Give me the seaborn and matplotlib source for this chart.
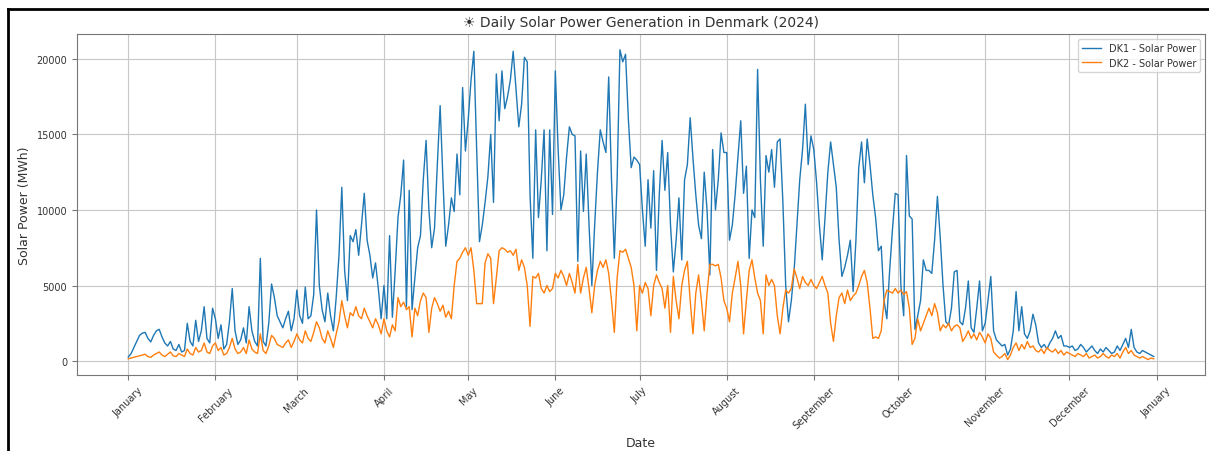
import matplotlib
matplotlib.use("Agg")
import matplotlib.dates as mdates
import matplotlib.pyplot as plt
import pandas as pd
import seaborn as sns
from matplotlib.lines import Line2D

# daily values, one list per month (2024 is a leap year)
dk1_months = [
    [270, 500, 900, 1300, 1700, 1850, 1900, 1500, 1270, 1700, 2000, 2100, 1600, 1200, 1000, 1300,
     800, 700, 1100, 600, 700, 2500, 1300, 1000, 2700, 1300, 2000, 3600, 1500, 1200, 3500],
    [2800, 1500, 2400, 800, 1100, 2600, 4800, 2000, 1100, 1400, 2200, 1200, 3600, 2000, 1300, 1000,
     6800, 1300, 1000, 2500, 5100, 4200, 3000, 2600, 2200, 2800, 3300, 2000, 2800],
    [4700, 3000, 2500, 4900, 2800, 3000, 4400, 10000, 5000, 3400, 2600, 4500, 3000, 2000, 4200, 7000,
     11500, 6000, 4000, 8300, 7900, 8700, 7000, 9000, 11100, 8000, 7000, 5500, 6500, 4800, 2800],
    [5000, 2800, 8300, 2900, 6000, 9500, 11000, 13300, 3600, 11300, 3400, 5500, 7500, 8300, 12000,
     14600, 10000, 7500, 8800, 13000, 16900, 12000, 7600, 9000, 10800, 9900, 13700, 11000, 18100, 13900],
    [16000, 18600, 20500, 14000, 7900, 9000, 10500, 12200, 15000, 10500, 19000, 15900, 19200, 16700,
     17500, 18600, 20500, 18000, 15500, 17000, 20100, 19800, 11000, 6800, 15300, 9500, 12000, 15300,
     7300, 15300, 9700],
    [19200, 14000, 10000, 11000, 13500, 15500, 15000, 14900, 6600, 13900, 9900, 13700, 9000, 5000, 9000,
     12500, 15300, 14500, 13800, 18800, 12000, 6800, 12000, 20600, 19800, 20300, 16000, 12800, 13500, 13300],
    [13000, 10000, 7600, 12000, 8800, 12600, 6000, 11000, 14600, 11300, 13800, 9000, 5900, 8000, 10800,
     6700, 12000, 13000, 16100, 13400, 11000, 9000, 8100, 12500, 10000, 5700, 14000, 10000, 12000,
     15100, 13800],
    [13800, 8000, 9000, 11000, 13500, 15900, 11100, 12900, 6800, 10000, 9500, 19300, 12000, 7600, 13600,
     12500, 14000, 11500, 14500, 14700, 10500, 5000, 2600, 4000, 6000, 9000, 12000, 14000, 17000,
     13000, 14900],
    [14000, 11800, 9000, 6700, 9500, 12500, 14500, 13000, 11500, 8000, 5600, 6200, 7000, 8000, 4600,
     8000, 12800, 14500, 11800, 14700, 13000, 11000, 9500, 7300, 7600, 4000, 2800, 6000, 8700, 11100],
    [11000, 5000, 3000, 13600, 9600, 9400, 2100, 3000, 4000, 6700, 6000, 6000, 5800, 8000, 10900, 8200,
     5000, 2600, 2400, 3500, 5900, 6000, 2600, 2400, 3500, 5300, 2200, 1900, 3500, 5300, 2000],
    [2500, 4000, 5600, 2000, 1400, 1200, 1000, 1100, 400, 800, 2000, 4600, 2000, 3600, 1800, 1500,
     2000, 3100, 2400, 1200, 900, 1100, 800, 1200, 1500, 2000, 1500, 1700, 1000, 1000],
    [900, 1000, 700, 800, 1100, 900, 600, 800, 1000, 700, 500, 800, 600, 900, 700, 500, 600, 1000,
     700, 1100, 1500, 900, 2100, 900, 600, 500, 700, 600, 500, 400, 300],
]

dk2_months = [
    [150, 200, 250, 300, 350, 400, 450, 300, 250, 400, 500, 600, 400, 300, 450, 600, 350, 300, 500,
     400, 300, 800, 500, 400, 900, 600, 700, 1200, 600, 500, 1000],
    [1200, 700, 900, 400, 500, 900, 1500, 800, 500, 600, 900, 500, 1400, 800, 600, 500, 1800, 700,
     500, 1000, 1700, 1500, 1100, 1000, 900, 1200, 1400, 900, 1300],
    [1800, 1400, 1200, 2000, 1500, 1300, 1900, 2600, 2200, 1500, 1200, 2000, 1500, 900, 1800, 2600,
     4000, 3000, 2200, 3200, 3000, 3600, 3000, 2800, 3500, 3000, 2600, 2200, 2800, 2400, 1800],
    [2800, 2000, 1600, 2400, 2000, 4200, 3600, 3900, 3400, 3600, 1600, 3500, 3000, 4000, 4500, 4200,
     1900, 3500, 4200, 3800, 3300, 3700, 2900, 3300, 2800, 5000, 6600, 6800, 7200, 7500],
    [7000, 7500, 6000, 3800, 3800, 3800, 6500, 7100, 6800, 3800, 5500, 7300, 7500, 7400, 7200, 7300,
     7000, 7400, 6000, 6700, 6200, 5000, 2300, 5600, 5500, 5800, 4800, 4500, 5000, 4600, 4800],
    [5800, 5500, 6000, 5600, 5000, 5800, 5200, 4500, 6400, 4500, 5500, 6200, 4800, 3200, 5000, 6000,
     6600, 6200, 6700, 5800, 4000, 1900, 5500, 7300, 7200, 7400, 6800, 6200, 5000, 2000],
    [5000, 4500, 5200, 4800, 3000, 5000, 5700, 5200, 4800, 3500, 5000, 1900, 5600, 4000, 2800, 5000,
     6000, 6600, 4000, 1800, 4500, 5700, 4000, 2000, 4500, 6400, 6400, 6300, 6400, 5500, 4000],
    [3500, 2600, 4500, 5500, 6600, 5000, 1800, 4000, 6000, 6700, 5500, 4500, 4000, 1800, 5700, 5000,
     5400, 5000, 3000, 1800, 3500, 4700, 4500, 4800, 6100, 5500, 4800, 5600, 5200, 5000, 5400],
    [5000, 4800, 5200, 5600, 5000, 4500, 2500, 1300, 3000, 4200, 4500, 3800, 4700, 4000, 4300, 4500,
     5000, 5600, 6000, 5200, 3500, 1500, 1600, 1500, 2000, 4000, 4700, 4600, 4500, 4800],
    [4500, 4700, 4400, 4600, 3500, 1100, 1500, 2800, 2000, 2500, 3000, 3500, 3000, 3800, 3200, 2000,
     2400, 2200, 2500, 2000, 2300, 2400, 2200, 1300, 1600, 2000, 1500, 1800, 1400, 1900, 1600],
    [1200, 1800, 1500, 600, 400, 200, 300, 500, 100, 400, 900, 1200, 700, 1100, 800, 1300, 900, 1000,
     700, 600, 800, 500, 900, 700, 600, 800, 500, 700, 400, 600],
    [500, 400, 300, 500, 400, 300, 500, 200, 300, 400, 200, 300, 500, 300, 200, 400, 300, 500, 200,
     600, 900, 500, 700, 400, 300, 200, 300, 200, 100, 200, 150],
]

dk1 = [v for month in dk1_months for v in month]
dk2 = [v for month in dk2_months for v in month]
dates = pd.date_range("2024-01-01", "2024-12-31", freq="D")

df = pd.DataFrame({"Date": dates, "DK1": dk1, "DK2": dk2})

fig = plt.figure(figsize=(12.09, 4.52), dpi=100)
ax = fig.add_axes([0.0637, 0.168, 0.933, 0.754])

sns.lineplot(data=df, x="Date", y="DK1", ax=ax, color="#1f77b4", linewidth=1.0,
             label="DK1 - Solar Power")
sns.lineplot(data=df, x="Date", y="DK2", ax=ax, color="#ff7f0e", linewidth=1.0,
             label="DK2 - Solar Power")

text_color = "#333333"
ax.set_title("\u2600 Daily Solar Power Generation in Denmark (2024)", fontsize=10, color=text_color)
ax.set_xlabel("Date", fontsize=9, color=text_color)
ax.set_ylabel("Solar Power (MWh)", fontsize=9, color=text_color)
ax.xaxis.set_major_locator(mdates.MonthLocator())
ax.xaxis.set_major_formatter(mdates.DateFormatter("%B"))
ax.tick_params(axis="both", labelsize=7, labelcolor=text_color, color="#777777")
plt.setp(ax.get_xticklabels(), rotation=45)
for spine in ax.spines.values():
    spine.set_color("#777777")
ax.grid(True, color="#c8c8c8", linewidth=0.8)
leg = ax.legend(loc="upper right", fontsize=7)
for t in leg.get_texts():
    t.set_color(text_color)

# black frame around the screenshot (top and left edges)
fig.add_artist(Line2D([8 / 1209, 1], [1 - 10 / 452, 1 - 10 / 452], color="black", lw=2,
                      transform=fig.transFigure))
fig.add_artist(Line2D([8 / 1209, 8 / 1209], [0, 1 - 10 / 452], color="black", lw=2,
                      transform=fig.transFigure))

fig.savefig("out.png", dpi=100)
